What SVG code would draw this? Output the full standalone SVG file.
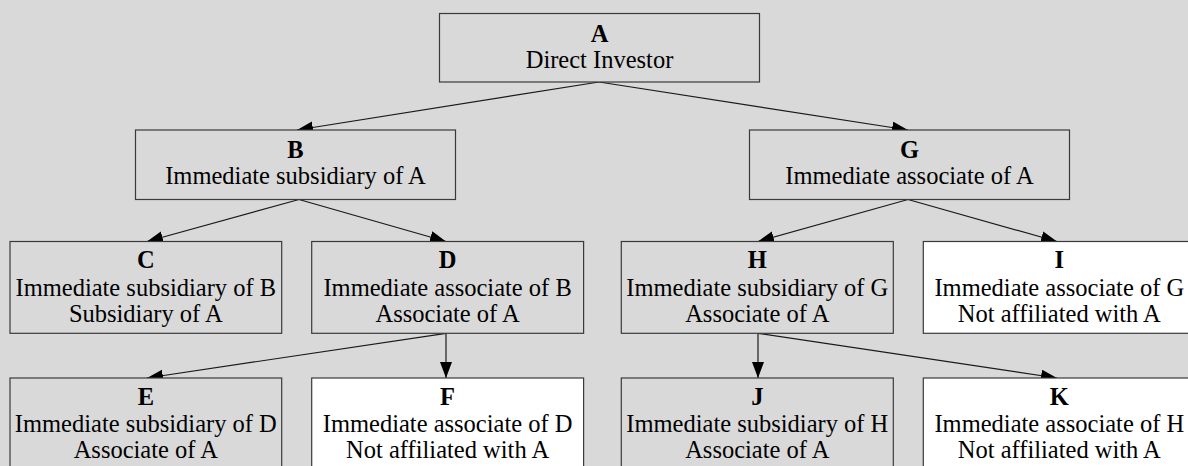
<svg xmlns="http://www.w3.org/2000/svg" width="1188" height="466" viewBox="0 0 1188 466">
<defs>
<style>
.bg{fill:#d9d9d9}
.box{fill:#d9d9d9;stroke:#3a3a3a;stroke-width:1.2}
.wbox{fill:#ffffff;stroke:#3a3a3a;stroke-width:1.2}
text{font-family:"Liberation Serif","Times New Roman",serif;font-size:24.5px;fill:#000;text-anchor:middle}
.t{font-weight:bold}
.edge{fill:none;stroke:#1a1a1a;stroke-width:1.2;marker-end:url(#arr)}
</style>
<marker id="arr" markerUnits="userSpaceOnUse" markerWidth="17" markerHeight="13" refX="16" refY="6" orient="auto">
<path d="M0,0 L16,6 L0,12 Z" fill="#000"/>
</marker>
</defs>
<rect class="bg" x="0" y="0" width="1188" height="466"/>
<g id="connectors">
<line class="edge" x1="599" y1="82" x2="297" y2="130"/>
<line class="edge" x1="599" y1="82" x2="908" y2="130"/>
<line class="edge" x1="299" y1="199.5" x2="147" y2="241.5"/>
<line class="edge" x1="299" y1="199.5" x2="446" y2="241.5"/>
<line class="edge" x1="908" y1="199.5" x2="758" y2="241.5"/>
<line class="edge" x1="908" y1="199.5" x2="1057" y2="241.5"/>
<line class="edge" x1="446" y1="333.3" x2="147" y2="378"/>
<line class="edge" x1="446" y1="333.3" x2="446" y2="378"/>
<line class="edge" x1="758" y1="333.3" x2="758" y2="378"/>
<line class="edge" x1="758" y1="333.3" x2="1057" y2="378"/>
</g>
<g id="node-A">
<rect class="box" x="439.5" y="13.5" width="320" height="68.5"/>
<text class="t" x="599.5" y="41.7">A</text>
<text x="599.5" y="68.3">Direct Investor</text>
</g>
<g id="node-B">
<rect class="box" x="135.5" y="130" width="320" height="69.5"/>
<text class="t" x="295.5" y="157.5">B</text>
<text x="295.5" y="184">Immediate subsidiary of A</text>
</g>
<g id="node-G">
<rect class="box" x="749.5" y="130" width="320" height="69.5"/>
<text class="t" x="909.5" y="157.5">G</text>
<text x="909.5" y="184">Immediate associate of A</text>
</g>
<g id="node-C">
<rect class="box" x="10" y="241.5" width="271.7" height="91.8"/>
<text class="t" x="145.8" y="268">C</text>
<text x="145.8" y="295.5">Immediate subsidiary of B</text>
<text x="145.8" y="322">Subsidiary of A</text>
</g>
<g id="node-D">
<rect class="box" x="311.7" y="241.5" width="271.9" height="91.8"/>
<text class="t" x="447.6" y="268">D</text>
<text x="447.6" y="295.5">Immediate associate of B</text>
<text x="447.6" y="322">Associate of A</text>
</g>
<g id="node-H">
<rect class="box" x="621.3" y="241.5" width="272" height="91.8"/>
<text class="t" x="757.3" y="268">H</text>
<text x="757.3" y="295.5">Immediate subsidiary of G</text>
<text x="757.3" y="322">Associate of A</text>
</g>
<g id="node-I">
<rect class="wbox" x="923.3" y="241.5" width="272" height="91.8"/>
<text class="t" x="1059.3" y="268">I</text>
<text x="1059.3" y="295.5">Immediate associate of G</text>
<text x="1059.3" y="322">Not affiliated with A</text>
</g>
<g id="node-E">
<rect class="box" x="10" y="378" width="271.7" height="91.8"/>
<text class="t" x="145.8" y="404.5">E</text>
<text x="145.8" y="431.7">Immediate subsidiary of D</text>
<text x="145.8" y="458.3">Associate of A</text>
</g>
<g id="node-F">
<rect class="wbox" x="311.7" y="378" width="271.9" height="91.8"/>
<text class="t" x="447.6" y="404.5">F</text>
<text x="447.6" y="431.7">Immediate associate of D</text>
<text x="447.6" y="458.3">Not affiliated with A</text>
</g>
<g id="node-J">
<rect class="box" x="621.3" y="378" width="272" height="91.8"/>
<text class="t" x="757.3" y="404.5">J</text>
<text x="757.3" y="431.7">Immediate subsidiary of H</text>
<text x="757.3" y="458.3">Associate of A</text>
</g>
<g id="node-K">
<rect class="wbox" x="923.3" y="378" width="272" height="91.8"/>
<text class="t" x="1059.3" y="404.5">K</text>
<text x="1059.3" y="431.7">Immediate associate of H</text>
<text x="1059.3" y="458.3">Not affiliated with A</text>
</g>
</svg>
